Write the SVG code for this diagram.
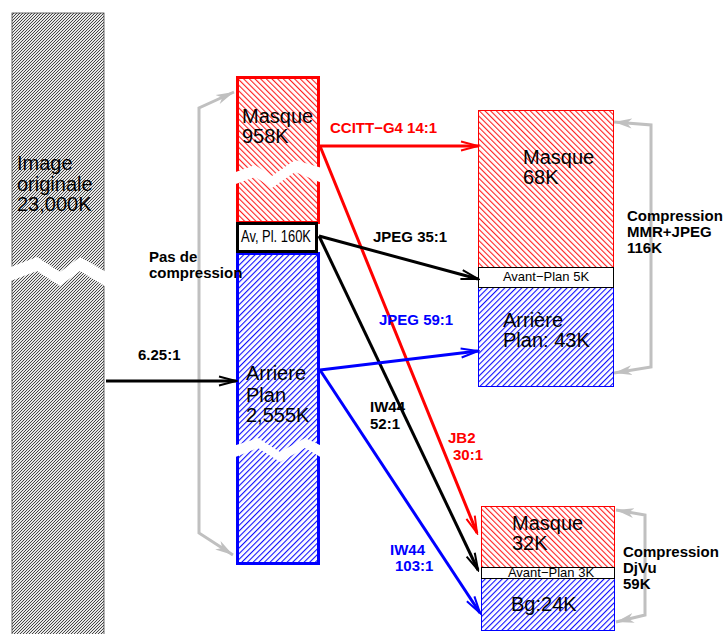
<svg xmlns="http://www.w3.org/2000/svg" width="727" height="634" viewBox="0 0 727 634">
<defs>
<pattern id="hGray" patternUnits="userSpaceOnUse" width="3" height="3">
<rect width="3" height="3" fill="#e8e8e8"/>
<path d="M-1,1 L1,-1 M0,3 L3,0 M2,4 L4,2" stroke="#333" stroke-width="0.9"/>
</pattern>
<pattern id="hRed" patternUnits="userSpaceOnUse" width="4" height="4" patternTransform="rotate(-45)">
<rect width="4" height="4" fill="#fff"/>
<rect x="0" y="0" width="1.1" height="4" fill="#ff2020"/>
</pattern>
<pattern id="hBlue" patternUnits="userSpaceOnUse" width="4" height="4" patternTransform="rotate(45)">
<rect width="4" height="4" fill="#fff"/>
<rect x="0" y="0" width="1.1" height="4" fill="#1010ff"/>
</pattern>
<marker id="aK" markerUnits="userSpaceOnUse" markerWidth="20" markerHeight="12" viewBox="0 0 20 12" refX="18" refY="6" orient="auto"><path d="M1,1.5 L18,6 L1,10.5" fill="none" stroke="#000" stroke-width="2"/></marker>
<marker id="aR" markerUnits="userSpaceOnUse" markerWidth="20" markerHeight="12" viewBox="0 0 20 12" refX="18" refY="6" orient="auto"><path d="M1,1.5 L18,6 L1,10.5" fill="none" stroke="#f00" stroke-width="2"/></marker>
<marker id="aB" markerUnits="userSpaceOnUse" markerWidth="20" markerHeight="12" viewBox="0 0 20 12" refX="18" refY="6" orient="auto"><path d="M1,1.5 L18,6 L1,10.5" fill="none" stroke="#00f" stroke-width="2"/></marker>
<marker id="aG" markerUnits="userSpaceOnUse" markerWidth="20" markerHeight="12" viewBox="0 0 20 12" refX="18" refY="6" orient="auto-start-reverse"><path d="M0,1 L18,6 L0,11 L5,6 Z" fill="#c0c0c0"/></marker>
</defs>
<style>
text{font-family:"Liberation Sans",Arial,sans-serif;}
.big{font-size:20px;fill:#000;}
.lb{font-size:15px;font-weight:bold;}
.sm{font-size:13px;}
.k{fill:#000}.r{fill:#f00}.b{fill:#00f}
.ln{fill:none;stroke-width:3;}
.gr{fill:none;stroke:#c0c0c0;stroke-width:3;}
.brk{fill:#fff;stroke:none;}
</style>
<rect width="727" height="634" fill="#fff"/>

<g id="original">
<rect x="12" y="13" width="92" height="630" fill="url(#hGray)" stroke="#444" stroke-width="0.8"/>
<polygon class="brk" points="8,268 37,257 60,272 80,257 108,273 108,288 80,271 60,286 37,271 8,282"/>
<text class="big" x="17" y="170">Image</text>
<text class="big" x="17" y="191">originale</text>
<text class="big" x="17" y="211">23,000K</text>
</g>

<g id="masque-mid">
<rect x="237.5" y="77.5" width="81" height="145" fill="url(#hRed)" stroke="#f00" stroke-width="3"/>
<polygon class="brk" points="233,173 255,165 272,176 295,160 322,168 322,183 295,172 272,188 255,177 233,185"/>
<text class="big" x="242" y="123">Masque</text>
<text class="big" x="242" y="143">958K</text>
</g>

<g id="arriere-mid">
<rect x="237.5" y="253.5" width="81" height="310" fill="url(#hBlue)" stroke="#00f" stroke-width="3"/>
<polygon class="brk" points="233,446 258,438 280,452 305,438 322,446 322,458 305,448 280,462 258,448 233,458"/>
<text class="big" x="246" y="380">Arriere</text>
<text class="big" x="246" y="402">Plan</text>
<text class="big" x="246" y="422">2,555K</text>
</g>

<g id="avpl-mid">
<rect x="237.5" y="223.5" width="79" height="28" fill="#fff" stroke="#000" stroke-width="3"/>
<text x="241" y="242" font-size="17" textLength="70" lengthAdjust="spacingAndGlyphs" fill="#000">Av, Pl. 160K</text>
</g>

<g id="mmr-box">
<rect x="478.5" y="110.5" width="135" height="157" fill="url(#hRed)" stroke="#f00" stroke-width="1"/>
<rect x="478.5" y="287.5" width="135" height="99" fill="url(#hBlue)" stroke="#00f" stroke-width="1"/>
<rect x="478.5" y="267.5" width="135" height="20" fill="#fff" stroke="#000" stroke-width="1"/>
<text class="big" x="523" y="164">Masque</text>
<text class="big" x="523" y="184">68K</text>
<text class="sm" x="546" y="281" text-anchor="middle" fill="#000">Avant−Plan 5K</text>
<text class="big" x="503" y="327">Arrière</text>
<text class="big" x="503" y="347">Plan: 43K</text>
</g>

<g id="djvu-box">
<rect x="481.5" y="506.5" width="133" height="61" fill="url(#hRed)" stroke="#f00" stroke-width="1"/>
<rect x="481.5" y="578.5" width="133" height="52" fill="url(#hBlue)" stroke="#00f" stroke-width="1"/>
<rect x="481.5" y="567.5" width="133" height="11" fill="#fff" stroke="#000" stroke-width="1"/>
<text class="big" x="512" y="530">Masque</text>
<text class="big" x="512" y="550">32K</text>
<text class="sm" x="551" y="577" text-anchor="middle" fill="#000" font-size="13.4">Avant−Plan 3K</text>
<text class="big" x="511" y="611">Bg:24K</text>
</g>

<g id="connectors">
<polyline class="gr" points="234,92 199,108 199,533 233,555" marker-start="url(#aG)" marker-end="url(#aG)"/>
<polyline class="gr" points="614,122 651,125 651,367 614,373" marker-start="url(#aG)" marker-end="url(#aG)"/>
<polyline class="gr" points="616,510 645,515 645,615 616,622" marker-start="url(#aG)" marker-end="url(#aG)"/>
<line class="ln" x1="106" y1="381" x2="236" y2="381" stroke="#000" marker-end="url(#aK)"/>
<line class="ln" x1="320" y1="146" x2="478" y2="146" stroke="#f00" marker-end="url(#aR)"/>
<line class="ln" x1="320" y1="146" x2="477" y2="533" stroke="#f00" marker-end="url(#aR)"/>
<line class="ln" x1="319" y1="236" x2="478" y2="279" stroke="#000" marker-end="url(#aK)"/>
<line class="ln" x1="319" y1="236" x2="478" y2="570" stroke="#000" stroke-width="2.2" marker-end="url(#aK)"/>
<line class="ln" x1="320" y1="370" x2="478" y2="351" stroke="#00f" marker-end="url(#aB)"/>
<line class="ln" x1="320" y1="370" x2="480" y2="613" stroke="#00f" marker-end="url(#aB)"/>
</g>

<g id="labels">
<text class="lb k" x="149" y="262" font-size="13">Pas de</text>
<text class="lb k" x="149" y="278" font-size="13">compression</text>
<text class="lb k" x="138" y="360">6.25:1</text>
<text class="lb r" x="330" y="133" font-size="13.5">CCITT−G4 14:1</text>
<text class="lb k" x="373" y="242">JPEG 35:1</text>
<text class="lb b" x="379" y="325">JPEG 59:1</text>
<text class="lb k" x="370" y="412" font-size="14.5">IW44</text>
<text class="lb k" x="370" y="429" font-size="14.5">52:1</text>
<text class="lb r" x="448" y="443" font-size="14.5">JB2</text>
<text class="lb r" x="453" y="460" font-size="14.5">30:1</text>
<text class="lb b" x="390" y="555" font-size="14.5">IW44</text>
<text class="lb b" x="395" y="571" font-size="14.5">103:1</text>
<text class="lb k" x="627" y="221">Compression</text>
<text class="lb k" x="627" y="237">MMR+JPEG</text>
<text class="lb k" x="627" y="253">116K</text>
<text class="lb k" x="623" y="557">Compression</text>
<text class="lb k" x="623" y="573">DjVu</text>
<text class="lb k" x="623" y="589">59K</text>
</g>
</svg>
